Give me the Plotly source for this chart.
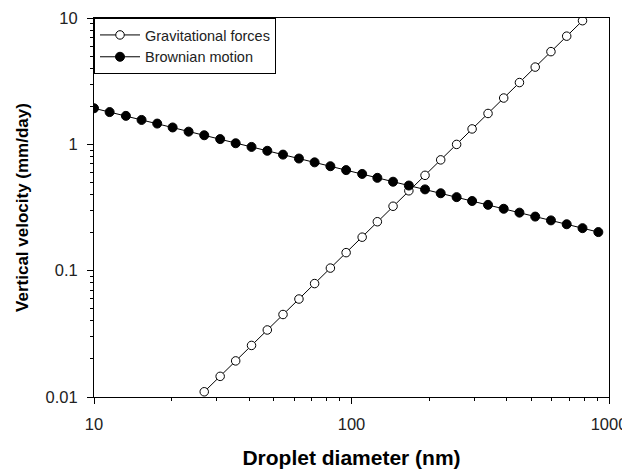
import plotly.graph_objects as go

# Droplet diameter (nm), shared log-spaced grid
diam_brownian = [10.0, 11.5, 13.3, 15.3, 17.6, 20.2, 23.3, 26.8, 30.9, 35.5, 40.9,
                 47.1, 54.2, 62.5, 71.9, 82.8, 95.3, 110, 126, 145, 167, 193, 222,
                 256, 294, 339, 390, 449, 517, 595, 685, 789, 909]
vel_brownian = [1.93, 1.80, 1.68, 1.56, 1.46, 1.36, 1.26, 1.18, 1.10, 1.02, 0.954,
                0.889, 0.829, 0.772, 0.720, 0.671, 0.625, 0.583, 0.543, 0.506, 0.472,
                0.440, 0.410, 0.382, 0.356, 0.332, 0.309, 0.288, 0.268, 0.250, 0.233,
                0.217, 0.202]

diam_grav = [26.8, 30.9, 35.5, 40.9, 47.1, 54.2, 62.5, 71.9, 82.8, 95.3, 110, 126,
             145, 167, 193, 222, 256, 294, 339, 390, 449, 517, 595, 685, 789]
vel_grav = [0.0110, 0.01457, 0.01931, 0.02560, 0.03393, 0.04498, 0.05963, 0.07904,
            0.1048, 0.1389, 0.1841, 0.2440, 0.3235, 0.4288, 0.5684, 0.7534, 0.9986,
            1.324, 1.755, 2.326, 3.083, 4.087, 5.417, 7.181, 9.519]

x_ticks = [10, 100, 1000]
x_tick_labels = ["10", "100", "1000"]
x_minor_ticks = [20, 30, 40, 50, 60, 70, 80, 90, 200, 300, 400, 500, 600, 700, 800, 900]
y_ticks = [0.01, 0.1, 1, 10]
y_tick_labels = ["0.01", "0.1", "1", "10"]
y_minor_ticks = [0.02, 0.03, 0.04, 0.05, 0.06, 0.07, 0.08, 0.09,
                 0.2, 0.3, 0.4, 0.5, 0.6, 0.7, 0.8, 0.9,
                 2, 3, 4, 5, 6, 7, 8, 9]

FONT = "Arial, Liberation Sans, sans-serif"

fig = go.Figure()
fig.add_trace(go.Scatter(
    x=diam_grav, y=vel_grav, mode="lines+markers", name="Gravitational forces",
    line=dict(color="black", width=1),
    marker=dict(symbol="circle", size=8.5, color="white", line=dict(color="black", width=1)),
))
fig.add_trace(go.Scatter(
    x=diam_brownian, y=vel_brownian, mode="lines+markers", name="Brownian motion",
    line=dict(color="black", width=1),
    marker=dict(symbol="circle", size=9, color="black", line=dict(color="black", width=1)),
))

axis_common = dict(
    showline=True, linecolor="black", linewidth=1, mirror=True,
    showgrid=False, zeroline=False, automargin=False,
    ticks="outside", ticklen=6, tickwidth=1, tickcolor="black",
    tickfont=dict(family=FONT, size=16.5, color="#222"),
)

fig.update_xaxes(
    type="log", range=[1, 3], tickvals=x_ticks, ticktext=x_tick_labels,
    minor=dict(ticks="outside", ticklen=3, tickwidth=1, tickcolor="black",
               showgrid=False, tickvals=x_minor_ticks),
    title=dict(text="<b>Droplet diameter (nm)</b>", font=dict(family=FONT, size=21, color="black"), standoff=18),
    ticklabelstandoff=6,
    **axis_common,
)
fig.update_yaxes(
    type="log", range=[-2, 1], tickvals=y_ticks, ticktext=y_tick_labels,
    minor=dict(ticks="outside", ticklen=3, tickwidth=1, tickcolor="black",
               showgrid=False, tickvals=y_minor_ticks),
    title=dict(text="<b>Vertical velocity (mm/day)</b>", font=dict(family=FONT, size=17, color="black"), standoff=12),
    ticklabelstandoff=6,
    **axis_common,
)

# the page body has an 8px default margin, so the figure is sized to fit the window
fig.update_layout(
    width=622, height=461,
    margin=dict(l=86, r=21, t=10, b=72),
    plot_bgcolor="white", paper_bgcolor="white",
    showlegend=True,
    legend=dict(
        x=0, y=1, xanchor="left", yanchor="top",
        bgcolor="white", bordercolor="black", borderwidth=1,
        font=dict(family=FONT, size=14.5, color="#222"),
        itemwidth=40, tracegroupgap=0,
    ),
)

fig.write_html("out.html")
